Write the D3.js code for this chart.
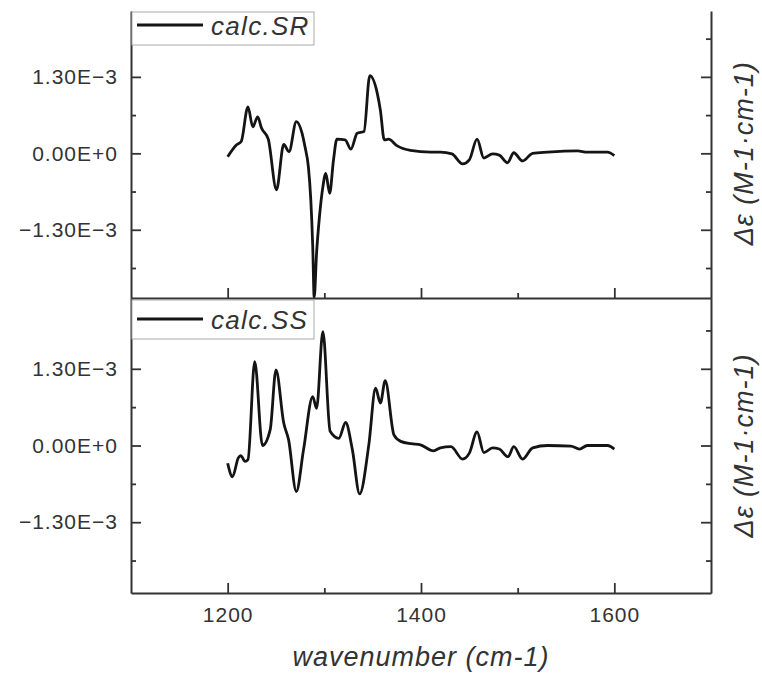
<!DOCTYPE html>
<html>
<head>
<meta charset="utf-8">
<script src="https://cdn.jsdelivr.net/npm/d3@7"></script>
<style>
  html, body { margin: 0; padding: 0; background: #fff; }
  svg { display: block; }
  text { font-family: "Liberation Sans", Arial, sans-serif; fill: #333; }
</style>
</head>
<body>
<svg id="chart" width="762" height="675"></svg>
<script>
// ---- data (values in units of 1e-3 M-1·cm-1) ----
const srWavenumber = [1200,1209,1214,1221,1226,1231,1235,1242,1250.5,1258,1263.5,1271,1277,1280,1283.5,1286,1288,1289.5,1292,1295,1298.5,1301.5,1305.5,1309.5,1313,1321.5,1327.5,1334,1341,1347,1354.5,1358,1362,1366.5,1375,1389,1410,1420,1432,1443,1450,1458,1465,1474,1481,1489.5,1496,1505,1515.5,1531,1562,1572,1593,1600];
const srValues = [-0.06,0.14,0.20,0.79,0.45,0.62,0.43,0.24,-0.62,0.15,0.03,0.54,0.34,0.11,-0.23,-0.79,-1.58,-2.45,-1.69,-1.07,-0.57,-0.34,-0.68,-0.11,0.24,0.23,0.07,0.34,0.37,1.32,1.04,0.73,0.23,0.24,0.13,0.05,0.02,0.02,-0.01,-0.18,-0.11,0.24,-0.08,-0.01,-0.03,-0.16,0.01,-0.13,0.0,0.02,0.04,0.02,0.02,-0.04];

const ssWavenumber = [1200,1205,1211,1213.5,1218,1221,1228,1236,1244,1250,1258,1263,1271,1278.5,1288,1292,1298.5,1306,1315,1322,1329,1336.5,1346,1353,1358,1363,1372,1379,1390,1399.5,1413,1420,1431,1443,1450,1458,1465,1474,1481,1490,1496,1505,1515.5,1531,1555,1564,1572,1593,1600];
const ssValues = [-0.30,-0.53,-0.21,-0.17,-0.27,-0.24,1.42,0.0,0.27,1.28,0.38,0.10,-0.78,-0.07,0.83,0.63,1.93,0.24,0.12,0.39,-0.07,-0.82,0.01,0.97,0.72,1.10,0.18,0.07,0.03,0.01,-0.09,-0.04,-0.02,-0.23,-0.13,0.23,-0.12,-0.04,-0.06,-0.19,-0.02,-0.23,-0.04,0.0,-0.01,-0.06,0.0,0.0,-0.06];

const seriesNames = ["calc.SR", "calc.SS"];
const xMajorTicks = [1200, 1400, 1600];
const xMinorTicks = [1300, 1500];
const xTickLabels = ["1200", "1400", "1600"];
const yMajorTicks = [-1.3, 0, 1.3];
const yMinorTicks = [-1.95, -0.65, 0.65, 1.95];
const yTickLabels = ["\u22121.30E\u22123", "0.00E+0", "1.30E\u22123"];
const xTitle = "wavenumber (cm-1)";
const yTitle = "\u0394\u03b5 (M-1\u00b7cm-1)";

// ---- layout ----
const svg = d3.select("#chart");
const x = d3.scaleLinear().domain([1100, 1700]).range([131, 711]);
const panels = [
  { name: seriesNames[0], wn: srWavenumber, vals: srValues,
    y: d3.scaleLinear().domain([-2.46, 2.42]).range([298, 11]), top: 11, bottom: 298 },
  { name: seriesNames[1], wn: ssWavenumber, vals: ssValues,
    y: d3.scaleLinear().domain([-2.5, 2.5]).range([593, 298]), top: 298, bottom: 593 }
];

const axisColor = "#333";

panels.forEach((p, i) => {
  const g = svg.append("g");
  const clipId = "clip" + i;
  svg.append("clipPath").attr("id", clipId).append("rect")
    .attr("x", x.range()[0]).attr("y", p.top - 1)
    .attr("width", x.range()[1] - x.range()[0]).attr("height", p.bottom - p.top + 1);

  // curve
  const pts = p.wn.map((w, k) => [w, p.vals[k]]);
  const line = d3.line().x(d => x(d[0])).y(d => p.y(d[1])).curve(d3.curveMonotoneX);
  g.append("path").datum(pts)
    .attr("clip-path", `url(#${clipId})`)
    .attr("d", line).attr("fill", "none")
    .attr("stroke", "#141414").attr("stroke-width", 2.8).attr("stroke-linejoin", "round");

  // left axis
  g.append("g").attr("transform", `translate(${x.range()[0]},0)`)
    .call(d3.axisLeft(p.y).tickValues(yMajorTicks).tickSize(-10).tickSizeOuter(0).tickPadding(13)
      .tickFormat((d, k) => yTickLabels[k]));
  g.append("g").attr("transform", `translate(${x.range()[0]},0)`)
    .call(d3.axisLeft(p.y).tickValues(yMinorTicks).tickSize(-5).tickSizeOuter(0).tickFormat(""))
    .call(s => s.select(".domain").remove());
  // right axis
  g.append("g").attr("transform", `translate(${x.range()[1]},0)`)
    .call(d3.axisRight(p.y).tickValues(yMajorTicks).tickSize(-10).tickSizeOuter(0).tickFormat(""));
  g.append("g").attr("transform", `translate(${x.range()[1]},0)`)
    .call(d3.axisRight(p.y).tickValues(yMinorTicks).tickSize(-5).tickSizeOuter(0).tickFormat(""))
    .call(s => s.select(".domain").remove());
  // bottom axis
  g.append("g").attr("transform", `translate(0,${p.bottom})`)
    .call(d3.axisBottom(x).tickValues(xMajorTicks).tickSize(-10).tickSizeOuter(0).tickPadding(14)
      .tickFormat((d, k) => i === 1 ? xTickLabels[k] : ""));
  g.append("g").attr("transform", `translate(0,${p.bottom})`)
    .call(d3.axisBottom(x).tickValues(xMinorTicks).tickSize(-5).tickSizeOuter(0).tickFormat(""))
    .call(s => s.select(".domain").remove());

  g.selectAll(".domain").attr("stroke", axisColor).attr("stroke-width", 2);
  g.selectAll(".tick line").attr("stroke", axisColor).attr("stroke-width", 1.8);
  g.selectAll(".tick text").attr("font-size", 21).attr("fill", "#333")
    .attr("font-family", "'Liberation Sans', Arial, sans-serif").style("letter-spacing", "1px");

  // legend
  const ly = i === 0 ? 12 : 300;
  const lh = i === 0 ? 33 : 39;
  const lg = svg.append("g");
  lg.append("rect").attr("x", 132).attr("y", ly).attr("width", 182).attr("height", lh)
    .attr("fill", "#fff").attr("stroke", "#aaa").attr("stroke-width", 1);
  const lineY = i === 0 ? 25 : 319;
  lg.append("line").attr("x1", 137).attr("x2", 203).attr("y1", lineY).attr("y2", lineY)
    .attr("stroke", "#141414").attr("stroke-width", 2.8);
  lg.append("text").attr("x", 211).attr("y", lineY + 10)
    .attr("font-size", 26).attr("font-style", "italic").style("letter-spacing", "1.3px")
    .text(p.name);

  // right title
  const cy = p.y(0);
  svg.append("text")
    .attr("transform", `translate(753,${cy}) rotate(-90)`)
    .attr("text-anchor", "middle")
    .attr("font-size", 27).attr("font-style", "italic").style("letter-spacing", "1px")
    .text(yTitle);
});

// x title
svg.append("text").attr("x", 421).attr("y", 666).attr("text-anchor", "middle")
  .attr("font-size", 27).attr("font-style", "italic").style("letter-spacing", "1px")
  .text(xTitle);
</script>
</body>
</html>
